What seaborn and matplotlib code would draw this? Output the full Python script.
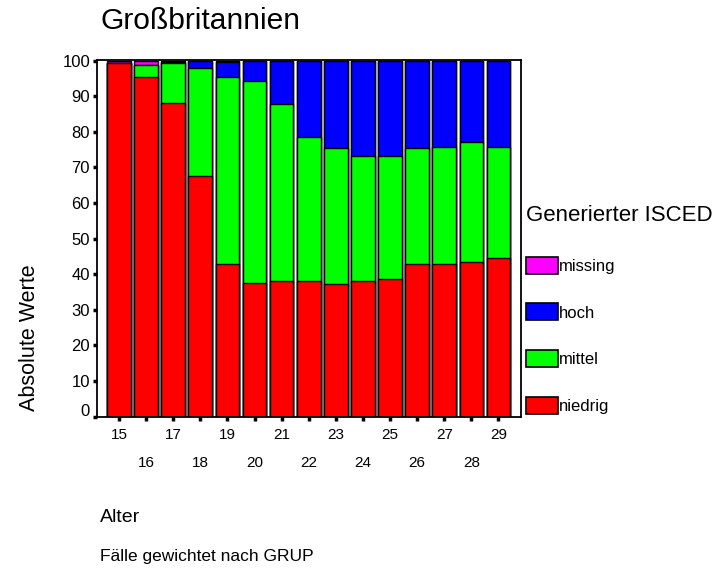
import seaborn as sns
import pandas as pd
import matplotlib.pyplot as plotter
from matplotlib.patches import Patch
from matplotlib.transforms import ScaledTranslation

# data (percent per age group)
ages = [15, 16, 17, 18, 19, 20, 21, 22, 23, 24, 25, 26, 27, 28, 29]
niedrig = [99.3, 95.3, 88.0, 67.7, 42.9, 37.6, 38.0, 38.0, 37.2, 38.0, 38.6, 42.9, 42.9, 43.4, 44.7]
mittel = [0.0, 3.5, 11.3, 30.2, 52.4, 56.8, 49.8, 40.5, 38.2, 35.2, 34.6, 32.5, 32.9, 33.8, 31.1]
hoch = [0.0, 0.0, 0.3, 2.1, 4.2, 5.6, 12.2, 21.5, 24.6, 26.8, 26.8, 24.6, 24.2, 22.8, 24.2]
missing = [0.7, 1.2, 0.4, 0.0, 0.5, 0.0, 0.0, 0.0, 0.0, 0.0, 0.0, 0.0, 0.0, 0.0, 0.0]

categories = ["niedrig", "mittel", "hoch", "missing"]
category_colors = {"niedrig": "#FF0000", "mittel": "#00FF00",
                   "hoch": "#0000FF", "missing": "#FF00FF"}

plot_data = pd.DataFrame({"Alter": [str(a) for a in ages], "niedrig": niedrig,
                          "mittel": mittel, "hoch": hoch, "missing": missing})
# cumulative tops so the layers can be drawn back to front
stacked = plot_data[categories].cumsum(axis=1)
stacked["Alter"] = plot_data["Alter"]

sns.set_style("ticks")
plotter.rcParams['font.family'] = ['Liberation Sans', 'DejaVu Sans']
plotter.rcParams['text.color'] = "black"
plotter.rcParams['xtick.color'] = "black"
plotter.rcParams['ytick.color'] = "black"
plotter.rcParams['axes.labelcolor'] = "black"

fig = plotter.figure(figsize=(7.22, 5.72), dpi=100)
ax = fig.add_axes([97 / 722, 155.3 / 572, 424 / 722, 357.2 / 572])

for cat in reversed(categories):
    sns.barplot(data=stacked, x="Alter", y=cat, color=category_colors[cat],
                width=0.87, edgecolor="black", linewidth=1.0, saturation=1,
                ax=ax)

ax.set_xlim(-0.81, 14.83)
ax.set_ylim(0, 100.3)
ax.set_yticks(range(0, 101, 10))
ax.set_yticklabels([str(v) for v in range(0, 101, 10)], fontsize=12)
ax.set_xticks(range(len(ages)))
ax.set_xticklabels([str(a) for a in ages], fontsize=11)
ax.set_xlabel("")
ax.set_ylabel("")
for i, tick in enumerate(ax.xaxis.get_major_ticks()):
    tick.set_pad(5 if i % 2 == 0 else 25)
ax.tick_params(axis="both", direction="out", length=3, width=2.5, color="black")
ax.tick_params(axis="y", pad=2)
for side in ["left", "right", "top", "bottom"]:
    ax.spines[side].set_visible(True)
    ax.spines[side].set_color("black")
    ax.spines[side].set_linewidth(1.3)

# the zero label sits a bit higher in the original
zero_label = ax.get_yticklabels()[0]
zero_label.set_transform(zero_label.get_transform()
                         + ScaledTranslation(0, 7 / 100, fig.dpi_scale_trans))

ax.text(-0.16, 0.017, "Absolute Werte", rotation=90, transform=ax.transAxes,
        ha="center", va="bottom", fontsize=15.5)
fig.text(100 / 722, 1 - 21 / 572, "Großbritannien", fontsize=21.6, va="center")
fig.text(100 / 722, 1 - 517 / 572, "Alter", fontsize=14, va="center")
fig.text(100 / 722, 1 - 557 / 572, "Fälle gewichtet nach GRUP", fontsize=12.5,
         va="center")

handles = [Patch(facecolor=category_colors[c], edgecolor="black", linewidth=1.2,
                 label=c) for c in reversed(categories)]
leg = fig.legend(handles=handles, title="Generierter ISCED", loc="upper left",
                 bbox_to_anchor=(526 / 722, 1 - 205 / 572), frameon=False,
                 fontsize=12, title_fontsize=16, alignment="left",
                 handlelength=1.9, handleheight=1.2, handletextpad=0.05,
                 labelspacing=1.78, borderpad=0, borderaxespad=0)
leg._legend_box.sep = 22

plotter.savefig("out.png", dpi=100)
